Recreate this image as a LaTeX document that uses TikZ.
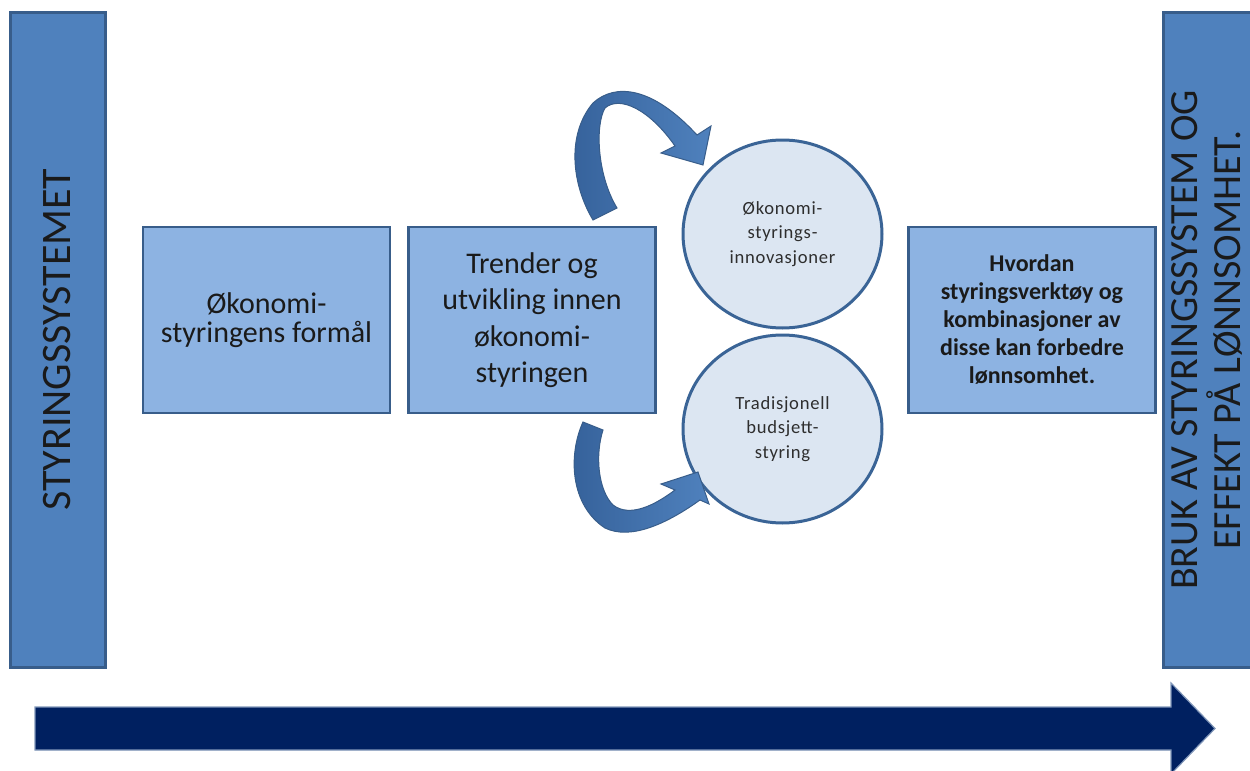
\documentclass[tikz,border=0pt]{standalone}
\usepackage{fontspec}
\setmainfont{Carlito}
\newfontfamily\circfont[LetterSpace=4]{Carlito}
\usetikzlibrary{shapes.geometric}
\definecolor{barfill}{HTML}{4F81BD}
\definecolor{barline}{HTML}{385D8A}
\definecolor{boxfill}{HTML}{8DB3E2}
\definecolor{circfill}{HTML}{DCE6F2}
\definecolor{circline}{HTML}{3A6496}
\definecolor{navy}{HTML}{002060}
\definecolor{navyedge}{HTML}{8096B8}
\definecolor{txt}{HTML}{1A1A1A}
\definecolor{ctxt}{HTML}{2E2E2E}
\definecolor{arrowdark}{HTML}{35619A}
\definecolor{arrowlight}{HTML}{4F81BD}
\begin{document}
\begin{tikzpicture}[x=0.5pt,y=-0.5pt,
  bar/.style={draw=barline, line width=1.5pt, fill=barfill, rectangle, inner sep=0pt,
              minimum width=47.5pt, minimum height=327.5pt},
  box/.style={draw=barline, line width=1.4pt, fill=boxfill, rectangle, inner sep=0pt,
              minimum width=123.5pt, minimum height=93pt, text=txt, align=center},
  circ/.style={draw=circline, line width=1.5pt, fill=circfill, ellipse, inner sep=0pt,
               minimum width=99.5pt, minimum height=94pt, text=ctxt, align=center},
  lbl/.style={text=txt, align=center, inner sep=0pt},
  curvearrow/.style={left color=arrowdark, right color=arrowlight, draw=barline, line width=0.5pt}
]
\clip (0,0) rectangle (1250,771);

% side bars
\node[bar] (leftbar) at (57.5,339.5) {};
\node[lbl, rotate=90, font=\fontsize{21}{25}\selectfont] (lefttext) at (leftbar.center) {STYRINGSSYSTEMET};
\node[bar, minimum width=55pt] (rightbar) at (1218,339.5) {};
\node[lbl, rotate=90, font=\fontsize{20}{21.5}\selectfont] (righttext) at (1207,340)
  {BRUK AV STYRINGSSYSTEM OG\\EFFEKT PÅ LØNNSOMHET.};

% boxes
\node[box, font=\fontsize{15}{14.3}\selectfont] (box1) at (266.5,320) {Økonomi-\\styringens formål};
\node[box, font=\fontsize{15}{18.2}\selectfont] (box2) at (532,320) {Trender og\\utvikling innen\\økonomi-\\styringen};
\node[box, font=\bfseries\fontsize{12}{14}\selectfont] (box3) at (1032,320)
  {Hvordan\\styringsverktøy og\\kombinasjoner av\\disse kan forbedre\\lønnsomhet.};

% circles
\node[circ, font=\circfont\fontsize{9.3}{12.2}\selectfont] (circ1) at (782.5,234) {Økonomi-\\styrings-\\innovasjoner};
\node[circ, font=\circfont\fontsize{9.3}{12.4}\selectfont] (circ2) at (782.5,429) {Tradisjonell\\budsjett-\\styring};

% curved arrows from box2 to the circles
\shade[curvearrow] (593,220) .. controls (572,185) and (566,135) .. (593,103)
  .. controls (615,83) and (652,86) .. (697,135) -- (711,126) -- (703,165) -- (661,153) -- (675,146)
  .. controls (650,110) and (620,95) .. (605,108)
  .. controls (595,125) and (597,175) .. (617,208) -- cycle;
\shade[curvearrow] (583,422) .. controls (568,455) and (570,505) .. (605,528)
  .. controls (630,540) and (665,525) .. (700,500) -- (709,504) -- (698,472) -- (661,484) -- (675,490)
  .. controls (655,505) and (630,518) .. (613,505)
  .. controls (598,490) and (595,455) .. (603,430) -- cycle;

% big bottom arrow
\filldraw[fill=navy, draw=navyedge, line width=0.6pt] (35,707) -- (1171,707) -- (1171,683) -- (1215,728.5)
  -- (1171,774) -- (1171,750) -- (35,750) -- cycle;
\end{tikzpicture}
\end{document}
